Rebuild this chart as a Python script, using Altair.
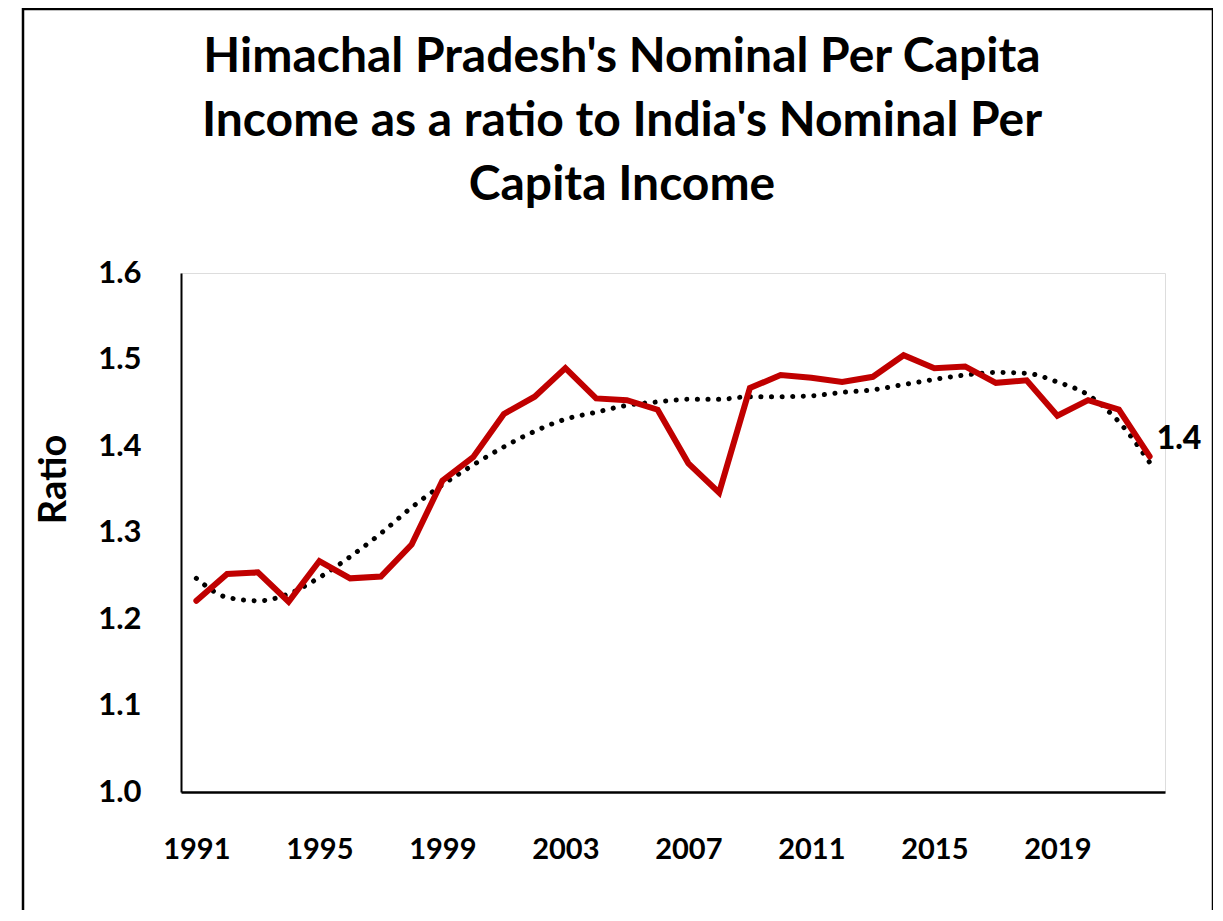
import altair as alt
import pandas as pd

years = list(range(1991, 2023))
ratio = [1.221, 1.252, 1.254, 1.220, 1.267, 1.247, 1.249, 1.286, 1.360, 1.387,
         1.437, 1.457, 1.490, 1.455, 1.453, 1.442, 1.380, 1.346, 1.467, 1.482,
         1.479, 1.474, 1.480, 1.505, 1.490, 1.492, 1.473, 1.476, 1.435, 1.453,
         1.442, 1.388]
trend = [1.247, 1.225, 1.221, 1.229, 1.248, 1.272, 1.299, 1.329, 1.355, 1.378,
         1.399, 1.417, 1.431, 1.439, 1.447, 1.451, 1.454, 1.454, 1.457, 1.457,
         1.458, 1.462, 1.465, 1.471, 1.477, 1.482, 1.485, 1.484, 1.474, 1.459,
         1.428, 1.381]
x_ticks = [1991, 1995, 1999, 2003, 2007, 2011, 2015, 2019]
y_ticks = [1.0, 1.1, 1.2, 1.3, 1.4, 1.5, 1.6]
title_lines = ["Himachal Pradesh's Nominal Per Capita",
               "Income as a ratio to India's Nominal Per",
               "Capita Income"]

df = pd.DataFrame({"year": years, "ratio": ratio, "trend": trend})
FONT = "Lato"

x_enc = alt.X("year:Q",
              scale=alt.Scale(domain=[1990.5, 2022.5], nice=False, zero=False),
              axis=alt.Axis(values=x_ticks, format="d", title=None, grid=False,
                            ticks=False, domainColor="black", domainWidth=2.5,
                            labelFont=FONT, labelFontSize=29, labelFontWeight="bold",
                            labelColor="black", labelPadding=43, labelFlush=False))
y_scale = alt.Scale(domain=[1.0, 1.6], nice=False, zero=False)
y_axis = alt.Axis(values=y_ticks, format=".1f", title="Ratio", grid=False,
                  ticks=False, domainColor="black", domainWidth=2,
                  labelFont=FONT, labelFontSize=31, labelFontWeight="bold",
                  labelColor="black", labelPadding=40,
                  titleFont=FONT, titleFontSize=38, titleFontWeight="bold",
                  titleColor="black", titleX=-127, titleY=206,
                  titleAlign="center", titleBaseline="middle", titleAngle=-90)

base = alt.Chart(df)

frame = alt.Chart(pd.DataFrame({"k": [0]})).mark_rect(
    fill="transparent", stroke="black", strokeWidth=2.5
).encode(x=alt.value(-158), x2=alt.value(1032), y=alt.value(-264), y2=alt.value(700))

trend_line = base.mark_line(
    color="black", strokeWidth=5, strokeDash=[0.1, 10.5], strokeCap="round",
    interpolate="monotone"
).encode(x=x_enc, y=alt.Y("trend:Q", scale=y_scale, axis=y_axis))

main_line = base.mark_line(
    color="#C00000", strokeWidth=6, strokeCap="round"
).encode(x=x_enc, y=alt.Y("ratio:Q", scale=y_scale, axis=y_axis))

end_label = base.transform_filter(alt.datum.year == 2022).mark_text(
    align="left", baseline="middle", dx=7, dy=-17,
    font=FONT, fontSize=32, fontWeight=900, color="black"
).encode(x=x_enc, y=alt.Y("ratio:Q", scale=y_scale, axis=y_axis),
         text=alt.Text("ratio:Q", format=".1f"))

chart = alt.layer(frame, trend_line, main_line, end_label).properties(
    width=984, height=519,
    title=alt.TitleParams(text=title_lines, font=FONT, fontSize=48,
                          fontWeight="bold", color="black", lineHeight=64,
                          anchor="middle", dx=-51, offset=0, dy=202),
    autosize=alt.AutoSizeParams(type="none"),
    padding={"left": 173, "top": 265, "right": 48, "bottom": 118},
).configure_view(stroke=None).configure(background="white")

chart.save("out.html", embed_options={"renderer": "svg", "actions": False})
